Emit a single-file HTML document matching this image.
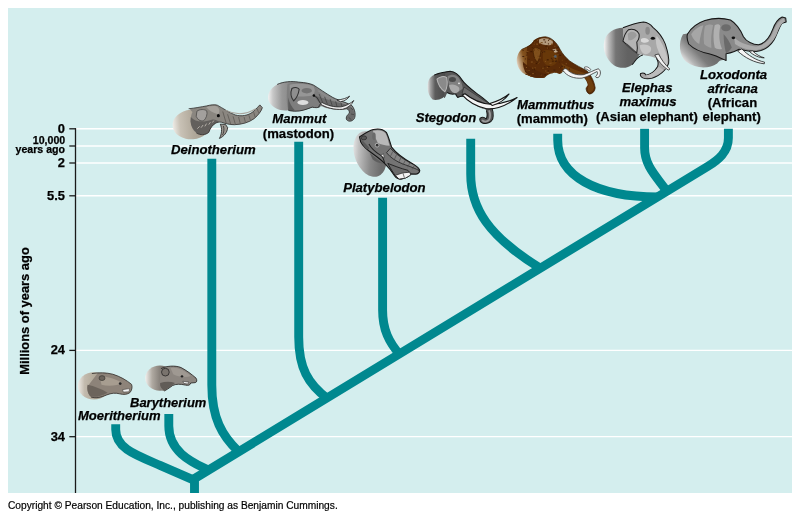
<!DOCTYPE html>
<html>
<head>
<meta charset="utf-8">
<title>Elephant evolution</title>
<style>
html,body{margin:0;padding:0;background:#fff;}
body{width:800px;height:517px;overflow:hidden;position:relative;font-family:"Liberation Sans",sans-serif;}
svg{position:absolute;left:0;top:0;}
text{font-family:"Liberation Sans",sans-serif;font-weight:bold;fill:#000;stroke:#000;stroke-width:0.25px;}
.sp{font-style:italic;font-size:13.15px;}
.cn{font-size:13.1px;}
.ax{font-size:12.9px;}
.sm{font-size:10.6px;}
</style>
</head>
<body>
<svg width="800" height="517" viewBox="0 0 800 517" style="will-change:transform">
<rect x="8" y="8" width="784" height="485" fill="#d4eeee"/>
<!-- gridlines -->
<g stroke="#ffffff" stroke-width="1.5">
<line x1="76" y1="128.8" x2="792" y2="128.8"/>
<line x1="76" y1="146" x2="792" y2="146"/>
<line x1="76" y1="163" x2="792" y2="163"/>
<line x1="76" y1="195.8" x2="792" y2="195.8"/>
<line x1="76" y1="350.4" x2="792" y2="350.4" stroke-width="1.1"/>
<line x1="76" y1="436.7" x2="792" y2="436.7" stroke-width="1.2"/>
</g>
<!-- axis -->
<g stroke="#1a1a1a" stroke-width="1.3">
<line x1="75.5" y1="128.2" x2="75.5" y2="493"/>
<line x1="69.3" y1="128.8" x2="76" y2="128.8"/>
<line x1="69.3" y1="146" x2="76" y2="146"/>
<line x1="69.3" y1="163" x2="76" y2="163"/>
<line x1="69.3" y1="195.8" x2="76" y2="195.8"/>
<line x1="69.3" y1="350.4" x2="76" y2="350.4"/>
<line x1="69.3" y1="436.7" x2="76" y2="436.7"/>
</g>
<!-- tree -->
<g id="tree" fill="none" stroke="#00888f" stroke-width="8.9" stroke-linejoin="miter">
<path d="M194.5 493 L194.5 478.6 L708 166.2 C718 160 728.4 152 728.4 138 L728.4 128.8"/>
<path d="M115.7 424.2 L115.7 429.5 C115.7 448.2 135.4 455 160 465.3 L194.5 480.3"/>
<path d="M168.8 414.1 L168.8 426 C168.8 452.9 194.5 463.2 208 470"/>
<path d="M211.8 158.8 L211.8 385 C211.8 418 222 436 239 452"/>
<path d="M298.7 141.8 L298.7 337 C298.7 368 308 384 328 399"/>
<path d="M382.6 197.7 L382.6 310 C382.6 330 389 342 400 355"/>
<path d="M470.7 138.7 L470.7 174 C470.7 208 488 236 540 268"/>
<path d="M557.7 133.8 L557.7 140 C557.7 176 596 197 658 197"/>
<path d="M644.6 128.7 L644.6 148 C644.6 165 655 175 666 190"/>
</g>
<!--HEADS-->
<!-- Deinotherium -->
<g transform="translate(165,95) scale(0.1375)" stroke-linejoin="round">
<defs><linearGradient id="b1" gradientUnits="userSpaceOnUse" x1="55" y1="0" x2="300" y2="0"><stop offset="0" stop-color="#efede8"/><stop offset="0.22" stop-color="#c9c2b6"/><stop offset="0.6" stop-color="#b1a99b"/><stop offset="1" stop-color="#a1998b"/></linearGradient></defs>
<ellipse cx="195" cy="214" rx="140" ry="108" fill="url(#b1)" transform="rotate(-5 195 214)"/>
<path d="M180,102 C215,96 265,86 300,80 C330,72 360,68 380,74 C420,95 465,128 510,145 C555,158 605,150 640,122 C665,100 680,82 690,72 L708,92 C702,115 680,145 648,172 C610,200 560,214 505,216 C470,216 440,208 410,198 C395,195 380,198 368,205 C345,218 330,240 318,272 C295,292 255,294 228,276 C202,255 188,225 186,192 C186,165 192,140 200,124 C192,116 185,108 180,102 Z" fill="#8a8680"/>
<path d="M188,160 C220,200 280,200 340,180 C360,175 380,185 395,198 C380,198 372,202 366,207 C345,218 330,240 318,270 C295,290 255,292 230,274 C204,255 188,225 186,190 Z" fill="#625f5c"/>
<path d="M300,88 C330,80 360,78 378,84 C400,100 400,130 385,140 C350,130 320,115 300,88 Z" fill="#a5a19b"/>
<path d="M172,100 C215,96 265,86 300,80 C330,72 360,68 380,74 C420,95 465,128 510,145 C555,158 605,150 640,122 C665,100 680,82 690,72 L708,92 C702,115 680,145 648,172 C610,200 560,214 505,216 C470,216 440,208 410,198 C395,195 380,198 368,205 C345,218 330,240 318,272 C295,292 255,294 228,276" fill="none" stroke="#33312f" stroke-width="6"/>
<path d="M232,118 C252,102 290,102 304,116 C310,140 300,172 280,188 C256,193 237,178 227,155 Z" fill="#a3a09d" stroke="#4e4c4a" stroke-width="6"/>
<path d="M235,245 L252,228 M262,238 L277,218 M290,228 L302,208 M318,215 L330,198 M345,200 L355,186" stroke="#b4afa8" stroke-width="7" fill="none"/>
<path d="M420,120 L445,205 M455,140 L478,212 M495,155 L512,214 M535,160 L548,210 M575,160 L585,200 M610,148 L622,185 M645,125 L655,160 M670,100 L682,130" stroke="#5e5a55" stroke-width="6" fill="none"/>
<path d="M440,110 C500,140 580,150 660,100" stroke="#a8a39b" stroke-width="8" fill="none"/>
<path d="M402,212 C418,245 412,285 396,316 C430,300 452,272 456,238 L440,214 Z" fill="#9a958e" stroke="#222" stroke-width="6"/>
<path d="M425,225 C432,250 428,275 418,292" stroke="#222" stroke-width="5" fill="none"/>
<circle cx="388" cy="150" r="11" fill="#0a0a0a"/>
</g>

<!-- Mammut -->
<g transform="translate(260,70) scale(0.1375)" stroke-linejoin="round">
<defs><linearGradient id="b2" gradientUnits="userSpaceOnUse" x1="55" y1="0" x2="230" y2="0"><stop offset="0" stop-color="#f6f6f6"/><stop offset="0.22" stop-color="#c8c8c8"/><stop offset="0.6" stop-color="#989898"/><stop offset="1" stop-color="#868686"/></linearGradient></defs>
<path d="M125,105 C170,84 230,80 280,88 C330,92 365,98 390,110 C430,135 470,165 530,200 C580,225 640,240 670,260 C692,290 698,330 685,355 C670,375 645,378 630,362 C622,345 635,325 650,315 C652,300 645,288 635,285 C600,292 540,292 480,276 C460,268 445,262 440,262 C430,278 400,275 380,270 C340,285 300,302 250,300 C225,298 208,295 205,292 C150,300 95,280 65,230 C45,180 75,130 125,105 Z" fill="url(#b2)"/>
<path d="M200,100 C250,88 330,92 390,112 C420,135 440,160 450,190 C440,230 430,255 415,270 C400,276 385,272 378,270 C340,285 300,300 250,298 C225,296 210,293 205,290 C195,250 190,200 200,100 Z" fill="#7e7e7e"/>
<path d="M215,108 C260,96 340,98 388,118 C405,140 400,170 380,185 C330,195 260,195 218,185 Z" fill="#969696"/>
<path d="M205,200 C215,240 230,270 255,295 C235,298 215,295 205,290 Z" fill="#5c5c5c"/>
<ellipse cx="340" cy="150" rx="38" ry="20" fill="#737373"/>
<path d="M232,135 C250,122 275,125 285,140 C280,175 265,205 245,225 C225,200 220,165 232,135 Z" fill="#8e8e8e" stroke="#333" stroke-width="8"/>
<ellipse cx="312" cy="236" rx="40" ry="18" fill="#dedede"/>
<path d="M395,185 C450,200 520,225 580,240 C630,250 665,262 680,290 C690,320 688,345 670,365 C655,372 640,368 632,358 C628,345 640,328 655,318 C655,300 648,288 635,284 C580,288 520,285 470,268 C440,250 410,220 395,185 Z" fill="#6a6a6a"/>
<path d="M430,175 L455,235 M470,195 L490,248 M510,212 L525,258 M550,228 L560,266 M590,240 L596,272 M630,252 L632,280 M660,275 L675,290 M662,320 L685,325 M645,345 L665,362" stroke="#3c3c3c" stroke-width="5" fill="none"/>
<path d="M420,150 C470,185 540,225 640,250" stroke="#8e8e8e" stroke-width="8" fill="none"/>
<path d="M125,105 C170,84 230,80 280,88 C330,92 365,98 390,110 C430,135 470,165 530,200 C580,225 640,240 670,260 C692,290 698,330 685,355 C670,375 645,378 630,362 C622,345 635,325 650,315 C652,300 645,288 635,285 M440,262 C430,278 400,275 380,270 C340,285 300,302 250,300 C225,298 208,295 205,292" fill="none" stroke="#262626" stroke-width="6"/>
<path d="M440,248 C480,275 540,290 600,286 C640,277 668,252 682,222 C660,242 630,260 590,268 C540,272 490,258 450,236 Z" fill="#f0f0f0" stroke="#222" stroke-width="6"/>
<path d="M560,218 C600,215 630,205 652,190 C640,210 615,226 585,231 Z" fill="#f0f0f0" stroke="#222" stroke-width="6"/>
<path d="M385,185 L415,200 L440,245 L425,268" fill="none" stroke="#262626" stroke-width="6"/>
<circle cx="392" cy="186" r="9" fill="#0a0a0a"/>
</g>

<!-- Platybelodon -->
<g transform="translate(340,120) scale(0.12579)" stroke-linejoin="round">
<defs><linearGradient id="b3" gradientUnits="userSpaceOnUse" x1="100" y1="200" x2="330" y2="300"><stop offset="0" stop-color="#f2f2f2"/><stop offset="0.25" stop-color="#c0c0c0"/><stop offset="0.65" stop-color="#888888"/><stop offset="1" stop-color="#6c6c6c"/></linearGradient></defs>
<ellipse cx="238" cy="270" rx="122" ry="188" transform="rotate(-20 238 270)" fill="url(#b3)"/>
<path d="M155,135 C190,112 230,85 265,76 C300,68 340,72 368,98 C385,130 395,170 410,215 C450,270 520,315 580,350 C610,368 632,385 634,402 C632,420 615,432 598,430 L560,428 C555,445 520,462 485,470 C460,470 445,460 435,445 C420,420 390,380 360,350 C330,318 290,290 255,265 C220,240 180,205 165,175 Z" fill="#747474" stroke="#161616" stroke-width="9"/>
<path d="M262,85 C300,75 345,82 362,105 C380,140 385,175 395,205 C360,200 320,195 300,180 C285,150 270,120 262,85 Z" fill="#b8b8b8"/>
<ellipse cx="270" cy="130" rx="14" ry="30" fill="#6a6a6a"/>
<path d="M165,150 C190,175 215,200 235,225 C225,235 215,235 205,225 C185,205 170,180 165,150 Z" fill="#5a5a5a"/>
<ellipse cx="190" cy="142" rx="22" ry="16" fill="#555" stroke="#222" stroke-width="5"/>
<path d="M230,190 C250,230 290,260 330,285 C345,300 350,320 355,345" fill="none" stroke="#222" stroke-width="8"/>
<path d="M235,260 C270,290 310,320 345,350 C320,345 285,335 260,315 Z" fill="#5e5e5e"/>
<path d="M326,282 L345,268 L352,302 Z" fill="#eee" stroke="#222" stroke-width="4"/>
<circle cx="295" cy="200" r="15" fill="#333" stroke="#c8c8c8" stroke-width="6"/>
<path d="M400,225 C450,280 520,320 585,355 C612,372 628,388 628,402 C610,390 560,370 500,350 C450,330 400,300 370,260 Z" fill="#868686" stroke="#1a1a1a" stroke-width="6"/>
<path d="M380,345 C420,360 480,385 540,400 L560,426 C540,445 510,460 485,466 C460,466 448,455 440,445 C425,420 400,385 380,345 Z" fill="#6a6a6a" stroke="#1a1a1a" stroke-width="7"/>
<path d="M440,440 L500,420 L555,415 L562,438 L520,462 L470,470 Z" fill="#f2f2f2" stroke="#222" stroke-width="6"/>
<path d="M500,422 L512,458" stroke="#222" stroke-width="5"/>
<path d="M420,250 L400,290 M450,275 L430,318 M485,298 L465,340 M520,318 L500,358 M555,340 L538,375 M590,362 L575,392" stroke="#4a4a4a" stroke-width="5" fill="none"/>
</g>

<!-- Stegodon -->
<g transform="translate(420,60) scale(0.12579)" stroke-linejoin="round">
<defs><linearGradient id="b4" gradientUnits="userSpaceOnUse" x1="55" y1="0" x2="200" y2="0"><stop offset="0" stop-color="#f2f2f2"/><stop offset="0.2" stop-color="#a0a0a0"/><stop offset="0.45" stop-color="#5c5c5c"/><stop offset="1" stop-color="#4a4a4a"/></linearGradient></defs>
<path d="M112,120 C150,105 200,95 240,90 L260,200 L215,258 C200,300 150,325 100,315 C60,280 45,200 75,150 C85,135 98,125 112,120 Z" fill="url(#b4)"/>
<path d="M200,96 C215,92 230,90 240,90 C280,92 310,120 335,160 C360,200 410,235 470,280 C510,310 545,340 562,358 C578,390 585,440 578,470 C565,498 530,510 500,502 C478,495 470,475 478,462 C495,452 515,458 525,468 C535,455 535,425 528,400 C520,390 505,385 495,385 C450,370 400,330 350,290 C335,285 315,290 300,298 C290,285 285,275 282,268 C260,275 235,270 215,258 C205,290 200,300 190,305 Z" fill="#575757"/>
<path d="M112,120 C150,105 200,95 240,90 C280,92 310,120 335,160 C360,200 410,235 470,280 C510,310 545,340 562,358 M528,400 C535,425 535,455 525,468 C515,458 495,452 478,462 C470,475 478,495 500,502 C530,510 565,498 578,470 C585,440 578,390 562,358 M350,290 C335,285 315,290 300,298 C290,285 285,275 282,268 C260,275 235,270 215,258" fill="none" stroke="#141414" stroke-width="8"/>
<path d="M220,130 C250,110 285,115 305,140 C325,165 335,195 340,225 C320,250 290,260 265,255 C240,240 225,200 220,130 Z" fill="#808080"/>
<path d="M230,200 C255,188 290,198 310,218 C320,242 300,264 275,264 C250,257 235,232 230,200 Z" fill="#aaaaaa"/>
<ellipse cx="258" cy="155" rx="28" ry="20" fill="#4a4a4a"/>
<path d="M135,152 C155,132 190,125 212,140 C220,180 215,225 198,252 C170,235 145,200 135,152 Z" fill="#8a8a8a" stroke="#b8b8b8" stroke-width="8"/>
<path d="M350,215 C420,260 490,310 555,352 C540,362 520,368 500,366 C440,345 385,300 335,262 Z" fill="#6e6e6e" stroke="#1e1e1e" stroke-width="4"/>
<path d="M335,278 C380,330 450,372 530,388 C610,394 690,362 772,298 C710,330 640,352 560,352 C480,345 410,310 358,268 Z" fill="#f4f4f4" stroke="#141414" stroke-width="8.5"/>
<path d="M555,345 C610,330 665,305 708,270 C680,310 630,345 575,362 Z" fill="#f4f4f4" stroke="#141414" stroke-width="8.5"/>
<path d="M548,400 C560,425 560,455 548,478 C532,494 505,492 493,478" fill="none" stroke="#9a9a9a" stroke-width="14"/>
<circle cx="310" cy="185" r="7" fill="#eee"/>
</g>

<!-- Mammuthus -->
<g transform="translate(505,30) scale(0.1375)" stroke-linejoin="round">
<defs><linearGradient id="b5" gradientUnits="userSpaceOnUse" x1="80" y1="260" x2="230" y2="220"><stop offset="0" stop-color="#f4eee6"/><stop offset="0.2" stop-color="#c2a482"/><stop offset="0.45" stop-color="#84531f"/><stop offset="1" stop-color="#5e2e08"/></linearGradient></defs>
<path d="M120,142 C150,128 180,118 200,95 L300,320 C295,335 290,345 285,348 C240,355 180,340 130,312 C95,280 75,235 90,190 C98,165 108,150 120,142 Z" fill="url(#b5)"/>
<path d="M160,122 C185,112 200,95 210,75 C235,55 270,48 300,50 C345,58 378,95 400,140 C415,170 445,205 470,225 C510,255 560,275 600,300 C630,335 650,380 656,420 C655,445 635,465 615,466 C598,460 588,440 590,420 C595,410 600,405 602,400 C598,380 590,360 570,342 C520,335 460,320 420,300 C415,312 405,320 395,320 C380,312 365,310 350,312 C330,316 305,325 290,346 C250,352 200,345 160,325 Z" fill="#5a2b07"/>
<path d="M245,70 C275,55 320,58 348,78 C355,95 345,108 325,110 C295,112 262,105 248,95 Z" fill="#b49a7c"/>
<path d="M205,135 C225,125 250,130 262,148 C258,185 248,215 235,235 C215,215 202,175 205,135 Z" fill="#80501c" stroke="#3e1c02" stroke-width="5"/>
<path d="M275,150 C310,140 355,150 385,180 C395,215 375,250 340,262 C305,265 280,245 275,215 Z" fill="#683809"/>
<path d="M130,230 C170,270 230,300 300,320 C285,345 240,355 190,340 C155,325 130,285 130,230 Z" fill="#522608"/>
<path d="M345,140 L370,136 L385,160 L362,166 Z" fill="#c4ae92"/>
<path d="M410,240 C460,275 540,300 595,318 C620,345 640,385 648,420 C640,445 625,455 612,455 C600,440 600,425 608,405 C605,385 595,365 578,348 C530,335 470,322 425,300 Z" fill="#6e3e0e"/>
<clipPath id="c5"><path d="M160,122 C185,112 200,95 210,75 C235,55 270,48 300,50 C345,58 378,95 400,140 C415,170 445,205 470,225 C510,255 560,275 600,300 C630,335 650,380 656,420 C655,445 635,465 615,466 C598,460 588,440 590,420 C595,410 600,405 602,400 C598,380 590,360 570,342 C520,335 460,320 420,300 C415,312 405,320 395,320 C380,312 365,310 350,312 C330,316 305,325 290,346 C250,352 200,345 160,325 Z"/><path d="M120,142 C150,128 180,118 200,95 L300,320 C295,335 290,345 285,348 C240,355 180,340 130,312 C110,290 105,200 120,142 Z"/></clipPath>
<g clip-path="url(#c5)"><rect x="233" y="102" width="7" height="7" fill="#70400f"/><rect x="407" y="86" width="7" height="8" fill="#42200a"/><rect x="195" y="84" width="7" height="7" fill="#7e4e1a"/><rect x="152" y="179" width="7" height="7" fill="#42200a"/><rect x="341" y="223" width="14" height="7" fill="#3e1a02"/><rect x="462" y="73" width="8" height="7" fill="#4a2204"/><rect x="170" y="93" width="7" height="7" fill="#835320"/><rect x="324" y="239" width="7" height="8" fill="#835320"/><rect x="369" y="218" width="7" height="7" fill="#42200a"/><rect x="358" y="180" width="14" height="8" fill="#835320"/><rect x="443" y="161" width="7" height="8" fill="#4a2204"/><rect x="393" y="83" width="14" height="7" fill="#835320"/><rect x="375" y="141" width="7" height="8" fill="#3e1a02"/><rect x="266" y="272" width="14" height="7" fill="#4a2204"/><rect x="134" y="247" width="8" height="7" fill="#42200a"/><rect x="363" y="226" width="14" height="7" fill="#42200a"/><rect x="414" y="325" width="7" height="7" fill="#7e4e1a"/><rect x="376" y="147" width="14" height="7" fill="#42200a"/><rect x="371" y="308" width="7" height="7" fill="#835320"/><rect x="244" y="231" width="7" height="7" fill="#7e4e1a"/><rect x="389" y="96" width="14" height="7" fill="#4a2204"/><rect x="441" y="199" width="14" height="7" fill="#4a2204"/><rect x="312" y="307" width="8" height="8" fill="#7e4e1a"/><rect x="265" y="160" width="7" height="7" fill="#7e4e1a"/><rect x="149" y="102" width="7" height="7" fill="#70400f"/><rect x="290" y="225" width="8" height="7" fill="#835320"/><rect x="171" y="210" width="8" height="7" fill="#42200a"/><rect x="362" y="204" width="7" height="7" fill="#42200a"/><rect x="435" y="278" width="14" height="7" fill="#70400f"/><rect x="260" y="89" width="14" height="7" fill="#70400f"/><rect x="187" y="336" width="7" height="7" fill="#7e4e1a"/><rect x="239" y="75" width="7" height="8" fill="#3e1a02"/><rect x="156" y="162" width="7" height="7" fill="#3e1a02"/><rect x="335" y="102" width="8" height="8" fill="#835320"/><rect x="247" y="94" width="14" height="7" fill="#7e4e1a"/><rect x="289" y="84" width="8" height="8" fill="#3e1a02"/><rect x="213" y="292" width="7" height="7" fill="#4a2204"/><rect x="453" y="208" width="7" height="8" fill="#4a2204"/><rect x="224" y="240" width="8" height="8" fill="#3e1a02"/><rect x="248" y="107" width="8" height="8" fill="#4a2204"/><rect x="198" y="287" width="7" height="7" fill="#4a2204"/><rect x="379" y="123" width="14" height="7" fill="#42200a"/><rect x="376" y="337" width="14" height="7" fill="#835320"/><rect x="188" y="229" width="14" height="8" fill="#835320"/><rect x="466" y="327" width="7" height="7" fill="#835320"/><rect x="156" y="192" width="7" height="7" fill="#835320"/><rect x="338" y="312" width="14" height="8" fill="#3e1a02"/><rect x="240" y="240" width="7" height="7" fill="#70400f"/><rect x="394" y="270" width="7" height="7" fill="#7e4e1a"/><rect x="396" y="153" width="14" height="7" fill="#70400f"/><rect x="260" y="325" width="7" height="7" fill="#70400f"/><rect x="468" y="68" width="14" height="8" fill="#42200a"/><rect x="171" y="291" width="8" height="7" fill="#7e4e1a"/><rect x="312" y="97" width="7" height="8" fill="#3e1a02"/><rect x="382" y="99" width="7" height="7" fill="#4a2204"/><rect x="208" y="142" width="8" height="7" fill="#4a2204"/><rect x="311" y="294" width="8" height="7" fill="#3e1a02"/><rect x="352" y="288" width="14" height="8" fill="#42200a"/><rect x="166" y="103" width="7" height="7" fill="#42200a"/><rect x="392" y="230" width="7" height="7" fill="#4a2204"/><rect x="286" y="263" width="7" height="7" fill="#42200a"/><rect x="359" y="209" width="7" height="8" fill="#7e4e1a"/><rect x="140" y="114" width="7" height="8" fill="#3e1a02"/><rect x="278" y="68" width="14" height="7" fill="#3e1a02"/><rect x="334" y="202" width="7" height="8" fill="#42200a"/><rect x="217" y="202" width="7" height="8" fill="#7e4e1a"/><rect x="303" y="305" width="7" height="7" fill="#835320"/><rect x="168" y="94" width="8" height="7" fill="#7e4e1a"/><rect x="355" y="180" width="8" height="7" fill="#4a2204"/><rect x="434" y="103" width="8" height="7" fill="#70400f"/><rect x="209" y="98" width="7" height="8" fill="#7e4e1a"/><rect x="453" y="172" width="7" height="8" fill="#7e4e1a"/><rect x="411" y="105" width="14" height="7" fill="#7e4e1a"/><rect x="267" y="160" width="8" height="7" fill="#3e1a02"/><rect x="238" y="188" width="7" height="7" fill="#70400f"/><rect x="236" y="235" width="7" height="7" fill="#42200a"/><rect x="465" y="281" width="7" height="7" fill="#3e1a02"/><rect x="215" y="314" width="8" height="7" fill="#4a2204"/><rect x="407" y="298" width="8" height="7" fill="#70400f"/><rect x="172" y="317" width="14" height="8" fill="#42200a"/><rect x="234" y="138" width="7" height="7" fill="#70400f"/><rect x="433" y="135" width="7" height="7" fill="#3e1a02"/><rect x="149" y="300" width="8" height="7" fill="#3e1a02"/><rect x="279" y="155" width="14" height="7" fill="#42200a"/><rect x="338" y="72" width="7" height="7" fill="#70400f"/><rect x="459" y="133" width="7" height="7" fill="#4a2204"/><rect x="340" y="209" width="8" height="7" fill="#4a2204"/><rect x="295" y="110" width="7" height="7" fill="#835320"/><rect x="133" y="65" width="7" height="8" fill="#42200a"/><rect x="286" y="322" width="14" height="8" fill="#3e1a02"/><rect x="293" y="294" width="8" height="8" fill="#7e4e1a"/><rect x="195" y="124" width="7" height="7" fill="#4a2204"/><rect x="466" y="335" width="7" height="7" fill="#4a2204"/><rect x="339" y="306" width="7" height="7" fill="#7e4e1a"/><rect x="150" y="296" width="8" height="8" fill="#42200a"/><rect x="205" y="142" width="7" height="7" fill="#7e4e1a"/><rect x="214" y="61" width="8" height="8" fill="#835320"/><rect x="233" y="70" width="7" height="7" fill="#835320"/><rect x="184" y="154" width="14" height="7" fill="#3e1a02"/><rect x="296" y="116" width="7" height="7" fill="#42200a"/><rect x="212" y="85" width="7" height="7" fill="#7e4e1a"/><rect x="128" y="145" width="7" height="8" fill="#4a2204"/><rect x="455" y="299" width="14" height="7" fill="#4a2204"/><rect x="372" y="198" width="7" height="7" fill="#835320"/><rect x="409" y="260" width="14" height="8" fill="#42200a"/><rect x="365" y="202" width="7" height="8" fill="#42200a"/><rect x="324" y="310" width="7" height="7" fill="#70400f"/><rect x="131" y="97" width="7" height="7" fill="#835320"/><rect x="413" y="216" width="7" height="8" fill="#70400f"/><rect x="306" y="128" width="7" height="7" fill="#835320"/><rect x="399" y="270" width="7" height="8" fill="#42200a"/><rect x="304" y="269" width="8" height="7" fill="#7e4e1a"/><rect x="416" y="126" width="7" height="8" fill="#4a2204"/><rect x="347" y="189" width="7" height="7" fill="#7e4e1a"/><rect x="439" y="140" width="7" height="7" fill="#3e1a02"/><rect x="330" y="153" width="8" height="8" fill="#70400f"/><rect x="319" y="63" width="14" height="7" fill="#3e1a02"/><rect x="460" y="88" width="14" height="7" fill="#4a2204"/><rect x="368" y="140" width="14" height="7" fill="#7e4e1a"/><rect x="468" y="214" width="7" height="7" fill="#835320"/><rect x="126" y="189" width="14" height="7" fill="#42200a"/><rect x="255" y="317" width="7" height="8" fill="#4a2204"/><rect x="152" y="269" width="8" height="7" fill="#835320"/><rect x="331" y="237" width="7" height="8" fill="#835320"/><rect x="248" y="199" width="14" height="7" fill="#7e4e1a"/><rect x="176" y="326" width="14" height="7" fill="#70400f"/><rect x="226" y="99" width="14" height="7" fill="#835320"/><rect x="162" y="153" width="8" height="7" fill="#835320"/><rect x="162" y="319" width="7" height="8" fill="#70400f"/><rect x="221" y="164" width="14" height="8" fill="#7e4e1a"/><rect x="147" y="319" width="7" height="7" fill="#835320"/><rect x="156" y="294" width="7" height="7" fill="#835320"/><rect x="460" y="182" width="7" height="7" fill="#835320"/><rect x="395" y="180" width="14" height="8" fill="#3e1a02"/><rect x="312" y="261" width="14" height="7" fill="#3e1a02"/><rect x="335" y="99" width="14" height="7" fill="#835320"/><rect x="439" y="214" width="14" height="7" fill="#4a2204"/><rect x="240" y="143" width="8" height="7" fill="#70400f"/><rect x="350" y="144" width="14" height="7" fill="#42200a"/><rect x="179" y="105" width="14" height="8" fill="#4a2204"/><rect x="197" y="314" width="14" height="7" fill="#7e4e1a"/><rect x="312" y="128" width="8" height="8" fill="#4a2204"/><rect x="152" y="127" width="7" height="7" fill="#835320"/><rect x="382" y="176" width="7" height="7" fill="#7e4e1a"/><rect x="215" y="271" width="8" height="8" fill="#7e4e1a"/><rect x="459" y="95" width="7" height="7" fill="#42200a"/><rect x="215" y="130" width="14" height="7" fill="#7e4e1a"/><rect x="454" y="298" width="7" height="7" fill="#3e1a02"/><rect x="269" y="274" width="14" height="7" fill="#7e4e1a"/><rect x="146" y="320" width="14" height="7" fill="#42200a"/><rect x="207" y="91" width="7" height="8" fill="#4a2204"/><rect x="460" y="90" width="14" height="7" fill="#70400f"/><rect x="313" y="71" width="7" height="8" fill="#4a2204"/><rect x="442" y="241" width="7" height="8" fill="#835320"/><rect x="208" y="238" width="7" height="7" fill="#70400f"/><rect x="145" y="207" width="7" height="7" fill="#42200a"/><rect x="211" y="281" width="7" height="8" fill="#3e1a02"/><rect x="226" y="189" width="7" height="7" fill="#835320"/><rect x="304" y="213" width="14" height="8" fill="#3e1a02"/><rect x="347" y="75" width="14" height="8" fill="#4a2204"/><rect x="347" y="83" width="14" height="7" fill="#4a2204"/><rect x="199" y="70" width="14" height="7" fill="#835320"/><rect x="359" y="115" width="7" height="7" fill="#835320"/><rect x="293" y="116" width="7" height="7" fill="#4a2204"/><rect x="198" y="273" width="7" height="8" fill="#835320"/><rect x="294" y="112" width="14" height="7" fill="#4a2204"/><rect x="439" y="76" width="7" height="7" fill="#42200a"/><rect x="139" y="67" width="7" height="7" fill="#42200a"/><rect x="138" y="77" width="14" height="8" fill="#7e4e1a"/><rect x="429" y="265" width="7" height="7" fill="#3e1a02"/></g>
<path d="M120,142 C150,128 180,118 200,95 C220,65 260,48 300,50 C345,58 378,95 400,140 C415,170 445,205 470,225 C510,255 560,275 600,300 C630,335 650,380 656,420 C655,445 635,465 615,466 C598,460 588,440 590,420" fill="none" stroke="#3d1d02" stroke-width="5"/>
<circle cx="366" cy="192" r="10" fill="#56606a"/>
<path d="M420,292 C432,278 445,278 452,288 C480,318 525,330 570,325 C615,312 650,290 678,282 C695,290 700,315 685,340 C675,350 662,348 658,340 C672,325 678,312 670,302 C640,315 605,340 560,350 C505,355 450,338 420,292 Z" fill="#f4f4f4" stroke="#3a3a3a" stroke-width="6"/>
<path d="M578,270 C595,262 612,272 625,288 L612,298 C602,286 590,282 580,284 Z" fill="#f4f4f4" stroke="#3a3a3a" stroke-width="5"/>
</g>

<!-- Elephas -->
<g transform="translate(590,15) scale(0.12579)" stroke-linejoin="round">
<defs><linearGradient id="b6" gradientUnits="userSpaceOnUse" x1="110" y1="0" x2="300" y2="0"><stop offset="0" stop-color="#f6f6f6"/><stop offset="0.2" stop-color="#bdbdbd"/><stop offset="0.5" stop-color="#747474"/><stop offset="1" stop-color="#626262"/></linearGradient></defs>
<path d="M262,102 L400,310 C380,330 360,360 335,395 C300,425 240,430 190,400 C130,350 95,280 115,200 C135,140 190,105 262,102 Z" fill="url(#b6)"/>
<path d="M262,102 C310,82 370,62 425,55 C460,58 480,72 500,98 C540,130 575,170 598,230 C618,290 630,350 625,385 C612,425 580,458 540,482 C500,505 455,515 420,500 C402,490 398,475 402,465 C420,458 438,462 445,478 C480,475 515,448 538,410 C545,385 540,360 528,345 C500,330 460,325 420,318 C400,315 385,310 372,302 C340,280 295,240 262,208 Z" fill="#a8a8a8"/>
<path d="M262,102 C310,82 370,62 425,55 C460,58 480,72 500,98 C540,130 575,170 598,230 C618,290 630,350 625,385 C612,425 580,458 540,482 C500,505 455,515 420,500 C402,490 398,475 402,465 C420,458 438,462 445,478 C480,475 515,448 538,410 C545,385 540,360 528,345 M420,318 C395,325 375,340 355,370 C345,385 338,392 335,395" fill="none" stroke="#141414" stroke-width="8"/>
<path d="M262,208 C270,170 285,135 305,118 C340,105 375,120 390,150 C395,180 385,200 372,215 C378,250 378,280 372,302 C340,280 295,240 262,208 Z" fill="#b4b4b4" stroke="#1e1e1e" stroke-width="8"/>
<path d="M300,150 C325,125 360,130 372,160 C360,185 330,205 305,200 Z" fill="#9c9c9c"/>
<path d="M290,225 C320,250 350,275 372,302 L362,300 C335,285 305,260 285,235 Z" fill="#4a4a4a"/>
<ellipse cx="458" cy="125" rx="18" ry="32" fill="#8a8a8a"/>
<path d="M405,190 C430,175 460,185 470,205 C455,225 425,225 405,210 Z" fill="#d8d8d8"/>
<path d="M395,240 C430,228 470,235 485,260 C490,290 470,310 440,312 C415,305 398,280 395,240 Z" fill="#c6c6c6"/>
<path d="M530,165 C570,215 598,270 612,330 C618,370 614,400 600,435 C585,385 565,330 545,290 C525,250 518,205 530,165 Z" fill="#c6c6c6"/>
<path d="M440,480 C480,478 520,450 545,412 C560,420 575,430 585,440 C560,465 520,490 470,500 Z" fill="#bcbcbc"/>
<ellipse cx="500" cy="185" rx="17" ry="12" fill="#111"/>
<path d="M515,318 L545,310 C565,350 595,395 635,430 L622,438 C580,410 540,365 515,318 Z" fill="#f2f2f2" stroke="#1e1e1e" stroke-width="6"/>
</g>

<!-- Loxodonta -->
<g transform="translate(670,5) scale(0.1625)" stroke-linejoin="round">
<defs><linearGradient id="b7" gradientUnits="userSpaceOnUse" x1="60" y1="330" x2="170" y2="230"><stop offset="0" stop-color="#f4f4f4"/><stop offset="0.3" stop-color="#b4b4b4"/><stop offset="0.7" stop-color="#7c7c7c"/><stop offset="1" stop-color="#707070"/></linearGradient></defs>
<path d="M80,180 L108,175 L345,300 L345,342 C320,335 305,340 290,360 C240,395 160,395 100,350 C55,310 50,230 80,180 Z" fill="url(#b7)"/>
<path d="M108,178 C130,140 170,110 215,95 C260,82 320,78 372,92 C410,115 435,155 452,195 C470,225 510,245 545,245 C585,235 615,195 632,150 C645,115 665,85 690,74 L712,80 L715,105 L690,112 C672,135 662,175 640,215 C615,255 575,282 530,286 C490,286 450,278 425,272 C405,285 370,295 345,300 L345,342 C320,330 280,310 240,300 C190,290 140,265 115,240 C105,215 102,195 108,178 Z" fill="#8a8a8a" stroke="#161616" stroke-width="6.5"/>
<path d="M130,180 C150,150 180,130 205,125 C195,160 185,200 180,240 C160,230 140,210 130,180 Z" fill="#a6a6a6"/>
<path d="M215,130 C235,118 255,118 265,125 C255,170 250,215 255,265 C235,260 220,250 210,240 C205,200 208,165 215,130 Z" fill="#a0a0a0"/>
<path d="M275,125 C290,115 305,118 310,130 C300,170 300,220 320,270 C300,275 285,270 275,262 C265,215 265,170 275,125 Z" fill="#b0b0b0"/>
<ellipse cx="345" cy="140" rx="30" ry="22" fill="#6c6c6c"/>
<path d="M395,200 C420,225 470,250 530,255 C580,250 615,215 635,165 C650,125 670,95 700,82 L708,102 C685,112 672,140 655,185 C630,235 585,272 530,278 C480,278 430,262 400,240 Z" fill="#ababab"/>
<path d="M330,180 C350,200 370,230 380,262 C370,280 355,292 345,298 C335,260 330,220 330,180 Z" fill="#6a6a6a"/>
<ellipse cx="390" cy="202" rx="11" ry="8" fill="#111"/>
<path d="M415,282 L442,270 C480,310 530,340 582,352 L580,362 C520,355 460,325 415,282 Z" fill="#f4f4f4" stroke="#1e1e1e" stroke-width="5"/>
<path d="M488,285 L508,282 C530,305 555,318 580,325 C550,325 515,312 488,285 Z" fill="#f4f4f4" stroke="#1e1e1e" stroke-width="5"/>
</g>

<!-- Moeritherium + Barytherium -->
<g transform="translate(70,355) scale(0.175)" stroke-linejoin="round">
<defs><linearGradient id="b8" gradientUnits="userSpaceOnUse" x1="45" y1="0" x2="200" y2="0"><stop offset="0" stop-color="#eeebe6"/><stop offset="0.25" stop-color="#c2baad"/><stop offset="0.7" stop-color="#ada595"/><stop offset="1" stop-color="#a0988a"/></linearGradient>
<linearGradient id="b9" gradientUnits="userSpaceOnUse" x1="430" y1="0" x2="560" y2="0"><stop offset="0" stop-color="#f2f0ee"/><stop offset="0.3" stop-color="#b0aaa2"/><stop offset="0.7" stop-color="#807a74"/><stop offset="1" stop-color="#77716b"/></linearGradient></defs>
<ellipse cx="137" cy="176" rx="92" ry="78" fill="url(#b8)"/>
<path d="M160,102 C190,99 220,102 245,110 C285,122 325,145 352,168 C358,185 352,205 342,215 C330,225 305,228 285,222 C260,215 235,218 210,228 C180,240 150,250 120,240 C105,228 98,205 100,180 C120,155 142,125 160,102 Z" fill="#8d8379"/>
<path d="M125,106 C160,100 210,100 245,110 C285,122 325,145 352,168 C358,185 352,205 342,215 C330,225 305,228 285,222 C260,215 235,218 210,228 C180,240 150,250 120,240" fill="none" stroke="#3a3632" stroke-width="5"/>
<path d="M170,125 C210,120 260,135 300,160 C270,175 220,180 180,170 Z" fill="#a79d90"/>
<path d="M100,170 C140,178 180,195 215,215 C180,235 140,245 115,235 C100,220 96,195 100,170 Z" fill="#6c645c"/>
<ellipse cx="183" cy="132" rx="17" ry="14" fill="#6c645c" stroke="#3a3632" stroke-width="4"/>
<circle cx="287" cy="163" r="8" fill="#2a2a2a"/>
<path d="M300,198 L340,192 L338,210 L305,212 Z" fill="#f2f2f2" stroke="#3a3632" stroke-width="3"/>

<ellipse cx="514" cy="132" rx="84" ry="72" fill="url(#b9)"/>
<path d="M520,78 C550,62 600,58 635,72 C665,88 695,110 720,132 C728,145 725,156 715,158 L690,160 C688,172 675,176 660,172 C630,165 605,165 585,175 C565,190 550,200 538,206 C520,200 508,185 510,165 C515,135 515,100 520,78 Z" fill="#8c8680"/>
<path d="M520,78 C550,62 600,58 635,72 C665,88 695,110 720,132 C728,145 725,156 715,158 L690,160 C688,172 675,176 660,172 C630,165 605,165 585,175 C565,190 550,200 538,206" fill="none" stroke="#2e2c2a" stroke-width="5"/>
<path d="M575,75 C610,68 650,85 690,120 C660,130 620,125 590,110 Z" fill="#9f9992"/>
<ellipse cx="545" cy="98" rx="22" ry="22" fill="#79736d" stroke="#2e2c2a" stroke-width="5"/>
<path d="M515,160 C545,150 575,150 600,160 C575,180 555,195 538,204 C522,195 512,180 515,160 Z" fill="#615c57"/>
<circle cx="640" cy="122" r="7" fill="#222"/>
<path d="M645,150 L680,155 L672,166 L650,162 Z" fill="#eaeaea" stroke="#2e2c2a" stroke-width="3"/>
</g>

<!--/HEADS-->
<!-- labels -->
<g text-anchor="middle">
<text class="ax" x="65" y="133" text-anchor="end">0</text>
<text class="sm" x="65.2" y="144.1" text-anchor="end">10,000</text>
<text class="sm" x="65" y="153.4" text-anchor="end">years ago</text>
<text class="ax" x="65" y="166.5" text-anchor="end">2</text>
<text class="ax" x="65" y="199.5" text-anchor="end">5.5</text>
<text class="ax" x="65" y="354.1" text-anchor="end">24</text>
<text class="ax" x="65" y="440.5" text-anchor="end">34</text>
<text class="ax" transform="translate(29,311) rotate(-90)" x="0" y="0">Millions of years ago</text>
<text class="sp" x="213.3" y="154">Deinotherium</text>
<text class="sp" x="299.3" y="122.6">Mammut</text>
<text class="cn" x="298.5" y="137.5">(mastodon)</text>
<text class="sp" x="384.4" y="192">Platybelodon</text>
<text class="sp" x="446" y="122">Stegodon</text>
<text class="sp" x="555.7" y="109">Mammuthus</text>
<text class="cn" x="552.3" y="123">(mammoth)</text>
<text class="sp" x="647.3" y="91.6">Elephas</text>
<text class="sp" x="648" y="106">maximus</text>
<text class="cn" x="646.9" y="121">(Asian elephant)</text>
<text class="sp" x="733.6" y="79">Loxodonta</text>
<text class="sp" x="732.7" y="93">africana</text>
<text class="cn" x="732.4" y="107">(African</text>
<text class="cn" x="731.7" y="121">elephant)</text>
<text class="sp" x="168.2" y="407.3" style="font-size:12.95px">Barytherium</text>
<text class="sp" x="119.3" y="419.5" style="font-size:13.05px">Moeritherium</text>
</g>
</svg>
<div style="position:absolute;left:8px;top:499px;font-size:10.2px;line-height:13px;color:#000;-webkit-text-stroke:0.2px #000;will-change:transform;white-space:nowrap;">Copyright © Pearson Education, Inc., publishing as Benjamin Cummings.</div>
</body>
</html>
